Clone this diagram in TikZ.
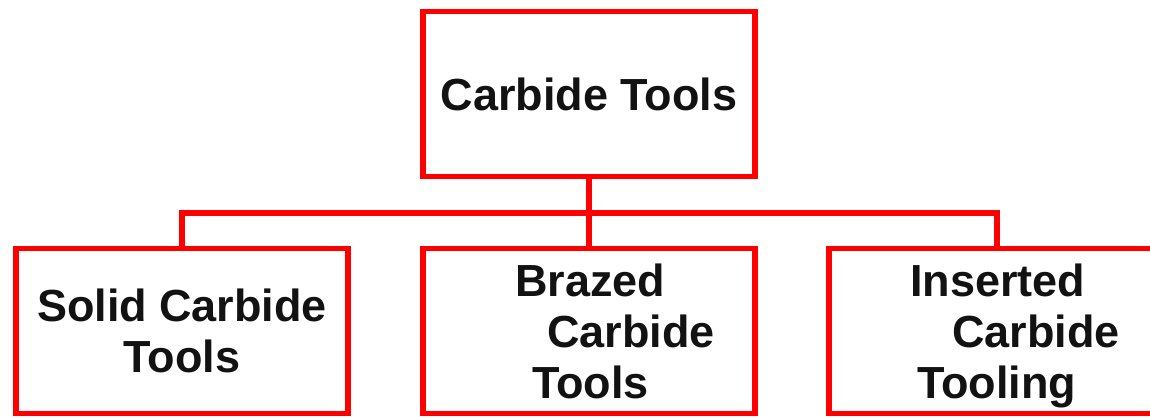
\documentclass[tikz,border=0pt]{standalone}
\usepackage{fontspec}
\setmainfont{Liberation Sans}
\usepackage{xcolor}
\usetikzlibrary{positioning}

\begin{document}
\begin{tikzpicture}[
        box/.style={rectangle, draw=red, line width=3.4pt, minimum width=6.64cm, minimum height=3.3cm, inner sep=0pt, text depth=0pt, text=black!93, font=\fontsize{25.6}{29}\selectfont\bfseries},
        link/.style={draw=red, line width=3.4pt}
    ]
    \useasboundingbox (0,0) rectangle (23,-8.34);

    % Top level
    \node[box] (root) at (11.78,-1.88) {Carbide Tools};

    % Bus junction
    \coordinate (bus) at (11.78,-4.26);

    % Second level
    \node[box, align=center] (solid) at (3.64,-6.62) {Solid Carbide\\Tools};
    \node[box, align=left] (brazed) at (11.78,-6.62) {\hspace*{1.04cm}Brazed\\\hspace*{1.68cm}Carbide\\\hspace*{1.38cm}Tools};
    \node[box, align=left, minimum width=6.72cm] (inserted) at (19.94,-6.62) {\hspace*{0.72cm}Inserted\\\hspace*{1.56cm}Carbide\\\hspace*{0.86cm}Tooling};

    % Connectors
    \draw[link] (root.south) -- (bus);
    \draw[link] (bus) -- (brazed.north);
    \draw[link] (bus) -| (solid.north);
    \draw[link] (bus) -| (inserted.north);

\end{tikzpicture}
\end{document}
